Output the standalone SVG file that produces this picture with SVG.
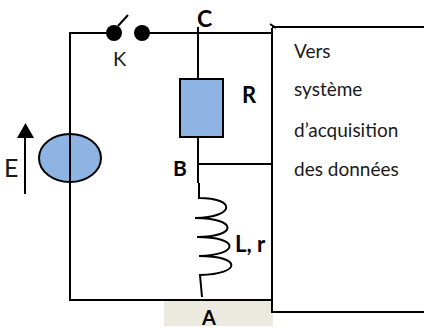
<svg xmlns="http://www.w3.org/2000/svg" width="424" height="329" viewBox="0 0 424 329">
<style>
.w{fill:none;stroke:#000;stroke-width:2}
.s{fill:#8eb4e3;stroke:#000;stroke-width:2}
text{font-family:Lato,"Open Sans","Liberation Sans",sans-serif;fill:#000}
.t{font-size:19px;fill:#1a1a1a}
.b{font-weight:bold;font-size:21px}
</style>
<rect width="424" height="329" fill="#fff"/>
<rect x="164" y="300" width="109" height="26" fill="#ece9df"/>
<g id="connectors">
<path class="w" d="M114 33H70V300H272"/>
<path class="w" d="M142 33H272"/>
<path class="w" d="M198 27V79"/>
<path class="w" d="M198 137V183"/>
<path class="w" d="M198 164H272"/>
<path class="w" d="M199 183V198C236 198 236 217 195 218C238 218 238 237 197 237C240 237 240 255 199 256C242 256 242 274 200 275L202 297"/>
<path class="w" d="M25 194V132"/>
<path d="M25.500 123L34 138H17Z" fill="#000"/>
</g>
<g id="switch-K">
<circle cx="114" cy="33" r="8" fill="#000"/>
<circle cx="142" cy="33" r="8" fill="#000"/>
<path class="w" d="M118 26L128 15"/>
<text x="113" y="66" style="font-size:20px;fill:#1a1a1a">K</text>
</g>
<g id="node-C"><text x="197" y="27" class="b" style="font-size:23px">C</text></g>
<g id="resistor-R">
<rect class="s" x="180" y="79" width="43" height="58"/>
<text x="242" y="103" class="b" style="font-size:22px">R</text>
</g>
<g id="node-B"><text x="173" y="176" class="b">B</text></g>
<g id="source-E">
<ellipse class="s" cx="70" cy="158" rx="31" ry="24"/>
<path class="w" d="M70 110V300"/>
<text x="4" y="177" style="font-size:25px;fill:#1a1a1a">E</text>
</g>
<g id="inductor-label"><text x="235" y="252" class="b" style="font-size:22px">L, r</text></g>
<g id="node-A"><text x="202" y="325" class="b" style="font-size:20px">A</text></g>
<g id="acquisition">
<path class="w" d="M272 28V312H424"/>
<path class="w" d="M272 27H424"/>
<path d="M270 24L276 28" class="w"/>
<text x="294" y="58" class="t">Vers</text>
<text x="294" y="96" class="t">système</text>
<text x="294" y="137" class="t">d’acquisition</text>
<text x="294" y="176" class="t">des données</text>
</g>
</svg>
